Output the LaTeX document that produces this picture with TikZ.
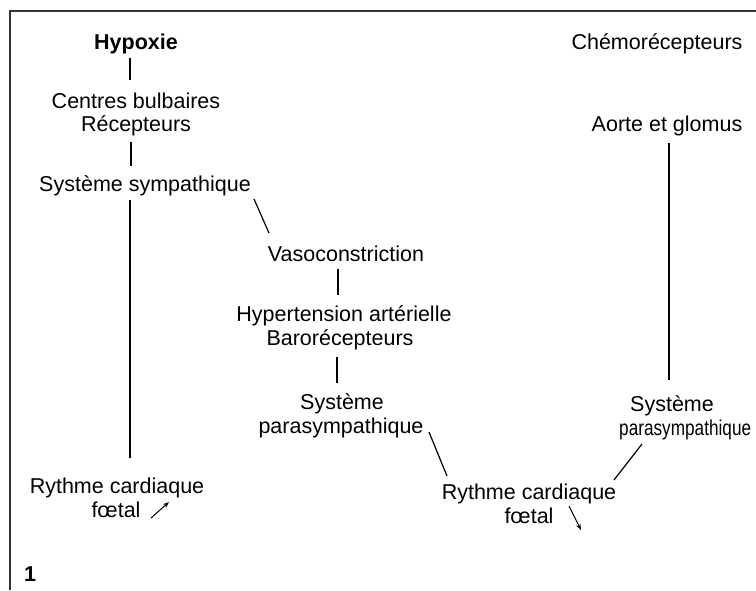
\documentclass[tikz,border=0pt]{standalone}
\usepackage{graphicx}
\usepackage{fontspec}
\setmainfont{Liberation Sans}
\usetikzlibrary{arrows.meta}
\begin{document}
\begin{tikzpicture}[x=1pt,y=-1pt,
  lbl/.style={inner sep=0pt,anchor=base,font=\fontsize{21.5}{24}\selectfont},
  lbb/.style={lbl,font=\fontsize{21.5}{24}\selectfont\bfseries},
  conn/.style={line width=1.2pt,black},
  arr/.style={line width=1pt,black,-{Stealth[length=6pt,width=4.5pt]}},
  frame/.style={line width=1.8pt,black!80}]
\useasboundingbox (0,0) rectangle (756,590);
\fill[white] (0,0) rectangle (756,590);
% frame
\draw[frame] (10,590) -- (10,11) -- (756,11);
% left column
\node[lbb] (hyp) at (136,49) {Hypoxie};
\node[lbl] (cb) at (136,108) {Centres bulbaires};
\node[lbl] (rec) at (136,131) {Récepteurs};
\node[lbl] (ss) at (145,191) {Système sympathique};
\node[lbl] (rcl1) at (117,493) {Rythme cardiaque};
\node[lbl] (rcl2) at (116,517) {fœtal};
% middle column
\node[lbl] (vaso) at (346,261) {Vasoconstriction};
\node[lbl] (hta) at (344,321) {Hypertension artérielle};
\node[lbl] (baro) at (340,345) {Barorécepteurs};
\node[lbl] (spm1) at (342,409) {Système};
\node[lbl] (spm2) at (341,433) {parasympathique};
\node[lbl] (rcr1) at (529,499) {Rythme cardiaque};
\node[lbl] (rcr2) at (529,523) {fœtal};
% right column
\node[lbl] (chemo) at (657,49) {Chémorécepteurs};
\node[lbl] (aorte) at (667,131) {Aorte et glomus};
\node[lbl] (spr1) at (672,411) {Système};
\node[lbl,anchor=base west] (spr2) at (619,435) {\scalebox{0.8}[1]{parasympathique}};
% label
\node[lbb,anchor=base west] (num) at (24,581) {1};
% connector end points
\coordinate (hyp-s) at (130,58);   \coordinate (cb-n) at (130,80);
\coordinate (rec-s) at (131,142);  \coordinate (ss-n) at (131,166);
\coordinate (ss-s) at (130,200);   \coordinate (rcl-n) at (130,458);
\coordinate (ss-e) at (254,199);   \coordinate (vaso-n) at (269,233);
\coordinate (vaso-s) at (338,269); \coordinate (hta-n) at (338,295);
\coordinate (baro-s) at (337,357); \coordinate (spm-n) at (337,383);
\coordinate (spm-e) at (429,432);  \coordinate (rcr-w) at (447,476);
\coordinate (aorte-s) at (669,143);\coordinate (spr-n) at (669,380);
\coordinate (spr-s) at (642,444);  \coordinate (rcr-e) at (614,480);
\coordinate (al-a) at (151,518);   \coordinate (al-b) at (169,502);
\coordinate (ar-a) at (569,506);   \coordinate (ar-b) at (581,530);
% connectors
\draw[conn] (hyp-s) -- (cb-n);
\draw[conn] (rec-s) -- (ss-n);
\draw[conn] (ss-s) -- (rcl-n);
\draw[conn] (ss-e) -- (vaso-n);
\draw[conn] (vaso-s) -- (hta-n);
\draw[conn] (baro-s) -- (spm-n);
\draw[conn] (spm-e) -- (rcr-w);
\draw[conn] (aorte-s) -- (spr-n);
\draw[conn] (spr-s) -- (rcr-e);
% arrows
\draw[arr] (al-a) -- (al-b);
\draw[arr] (ar-a) -- (ar-b);
\end{tikzpicture}
\end{document}
